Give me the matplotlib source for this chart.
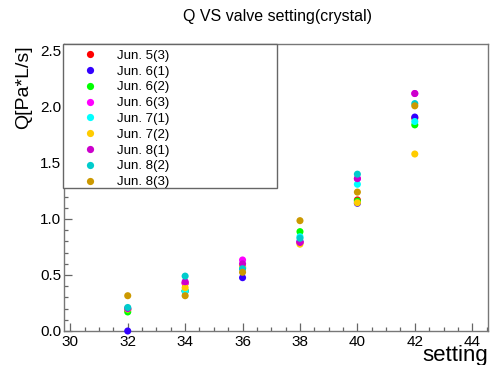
#! /usr/bin/env python3
import matplotlib
matplotlib.use('Agg')
import matplotlib.pyplot as plt
from matplotlib.patches import Rectangle
from matplotlib.lines import Line2D
from matplotlib.ticker import MultipleLocator

plt.rcParams['font.family'] = ['Liberation Sans', 'DejaVu Sans']

# valve settings and measured Q for each run
setting = [32, 34, 36, 38, 40, 42]
labels = ['Jun. 5(3)', 'Jun. 6(1)', 'Jun. 6(2)', 'Jun. 6(3)', 'Jun. 7(1)',
          'Jun. 7(2)', 'Jun. 8(1)', 'Jun. 8(2)', 'Jun. 8(3)']
colors = ['#ff0000', '#3300ff', '#00ff00', '#ff00ff', '#00ffff',
          '#ffcc00', '#cc00cc', '#00cccc', '#cc9900']
jun5_3 = [0.19, 0.425, 0.56, 0.79, 1.17, 1.90]
jun6_1 = [0.0, 0.355, 0.476, 0.80, 1.14, 1.91]
jun6_2 = [0.17, 0.36, 0.57, 0.887, 1.16, 1.84]
jun6_3 = [0.20, 0.43, 0.634, 0.79, 1.36, 2.12]
jun7_1 = [0.20, 0.355, 0.57, 0.842, 1.31, 1.87]
jun7_2 = [0.195, 0.387, 0.58, 0.775, 1.145, 1.58]
jun8_1 = [0.20, 0.44, 0.60, 0.79, 1.36, 2.12]
jun8_2 = [0.21, 0.49, 0.556, 0.828, 1.40, 2.03]
jun8_3 = [0.315, 0.315, 0.524, 0.985, 1.24, 2.01]
runs = [jun5_3, jun6_1, jun6_2, jun6_3, jun7_1, jun7_2, jun8_1, jun8_2, jun8_3]

W, H = 490, 365
fig = plt.figure(figsize=(W / 100, H / 100), dpi=100)
ax = fig.add_axes([64 / W, 1 - 331 / H, (488 - 64) / W, (331 - 44) / H])

for q, c in zip(runs, colors):
    ax.scatter(setting, q, s=26, color=c, edgecolors='none', clip_on=False, zorder=3)

ax.set_xlim(29.78, 44.55)
ax.set_ylim(0, 2.562)
ax.xaxis.set_major_locator(MultipleLocator(2))
ax.xaxis.set_minor_locator(MultipleLocator(0.5))
ax.yaxis.set_major_locator(MultipleLocator(0.5))
ax.yaxis.set_minor_locator(MultipleLocator(0.1))
ax.xaxis.set_major_formatter(matplotlib.ticker.FormatStrFormatter('%d'))
ax.yaxis.set_major_formatter(matplotlib.ticker.FormatStrFormatter('%.1f'))
ax.tick_params(which='both', direction='in', colors='#666666', labelcolor='black',
               labelsize=11, width=0.9)
ax.tick_params(which='major', length=6)
ax.tick_params(which='minor', length=3)
ax.tick_params(axis='x', pad=3)
ax.tick_params(axis='y', pad=2)
for sp in ax.spines.values():
    sp.set_color('#777777')
    sp.set_linewidth(1.0)

fig.text(277 / W, 1 - 17 / H, 'Q VS valve setting(crystal)', ha='center', va='center', fontsize=11.5)
fig.text(488 / W, 1 - 355.5 / H, 'setting', ha='right', va='center', fontsize=16)
fig.text(24 / W, 1 - 45 / H, 'Q[Pa*L/s]', rotation=90, ha='center', va='top', fontsize=14)

# legend box over the upper left corner of the frame
box = Rectangle((63 / W, 1 - 188 / H), (277 - 63) / W, (188 - 44) / H,
                transform=fig.transFigure, facecolor='white', edgecolor='#666666',
                linewidth=1.0, zorder=5)
fig.add_artist(box)
handles = [Line2D([], [], marker='o', linestyle='none', markersize=5.2,
                  markerfacecolor=c, markeredgecolor='none') for c in colors]
leg = fig.legend(handles, labels, loc='upper left', bbox_to_anchor=(74 / W, 1 - 43 / H),
                 frameon=False, fontsize=9.5, handletextpad=1.28, labelspacing=0.27,
                 borderpad=0, handlelength=1.5)
leg.set_zorder(6)

fig.savefig('out.png', dpi=100)
